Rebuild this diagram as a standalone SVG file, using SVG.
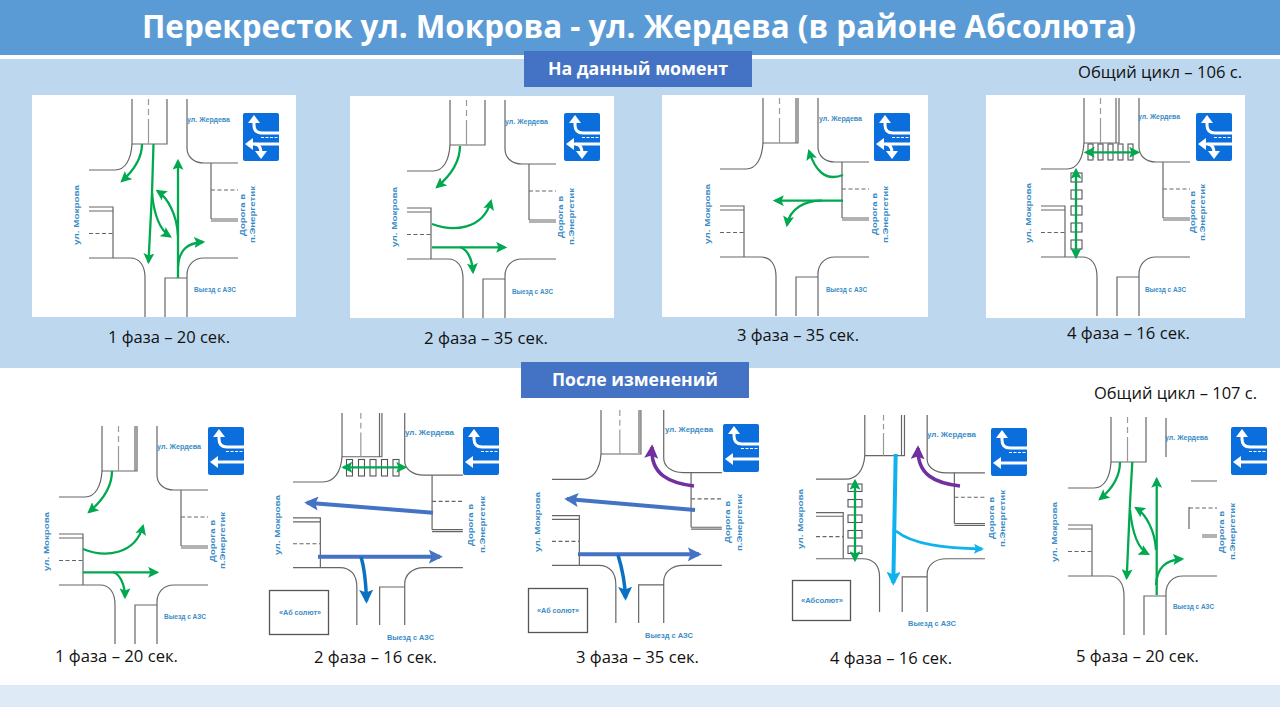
<svg xmlns="http://www.w3.org/2000/svg" xmlns:xlink="http://www.w3.org/1999/xlink" width="1280" height="707" viewBox="0 0 1280 707">
<style>
.rd{fill:none;stroke:#666;stroke-width:1.2;vector-effect:non-scaling-stroke}
.rd2{fill:none;stroke:#666;stroke-width:1.2}
.dash{stroke-dasharray:4 2.5}
.lb{font-family:"Liberation Sans",Arial,sans-serif;font-size:8px;font-weight:700;fill:#3a8cc6}
.cap{font-family:"Open Sans",sans-serif;font-size:15.5px;fill:#111}
.hd{font-family:"Open Sans",sans-serif;font-size:17px;font-weight:700;fill:#fff;text-anchor:middle}
.g{fill:none;stroke:#00a94f;stroke-width:2.3;marker-end:url(#ag)}
.gd{fill:none;stroke:#00a94f;stroke-width:2.3;marker-end:url(#ag);marker-start:url(#ag)}
.b{fill:none;stroke:#4472c4;stroke-width:4;marker-end:url(#ab)}
.d{fill:none;stroke:#0b6fc2;stroke-width:3.5;marker-end:url(#ad)}
.c{fill:none;stroke:#0fb2ee;stroke-width:4;marker-end:url(#ac)}
.c2{fill:none;stroke:#0fb2ee;stroke-width:2.8;marker-end:url(#ac2)}
.p{fill:none;stroke:#7030a0;stroke-width:3.5;marker-end:url(#ap)}
.cw{fill:none;stroke:#555;stroke-width:1.1}
.box{fill:#fff;stroke:#555;stroke-width:1.3}
.sw{fill:none;stroke:#fff;stroke-width:3}
</style>
<defs>
<marker id="ag" viewBox="0 0 10 10" refX="8" refY="5" markerWidth="11" markerHeight="11" markerUnits="userSpaceOnUse" orient="auto-start-reverse"><path d="M0,0L10,5L0,10L2,5Z" fill="#00a94f"/></marker>
<marker id="ab" viewBox="0 0 10 10" refX="8" refY="5" markerWidth="14" markerHeight="14" markerUnits="userSpaceOnUse" orient="auto"><path d="M0,0L10,5L0,10L2,5Z" fill="#4472c4"/></marker>
<marker id="ad" viewBox="0 0 10 10" refX="8" refY="5" markerWidth="14" markerHeight="14" markerUnits="userSpaceOnUse" orient="auto"><path d="M0,0L10,5L0,10L2,5Z" fill="#0b6fc2"/></marker>
<marker id="ac" viewBox="0 0 10 10" refX="8" refY="5" markerWidth="14" markerHeight="14" markerUnits="userSpaceOnUse" orient="auto"><path d="M0,0L10,5L0,10L2,5Z" fill="#0fb2ee"/></marker>
<marker id="ac2" viewBox="0 0 10 10" refX="8" refY="5" markerWidth="10" markerHeight="10" markerUnits="userSpaceOnUse" orient="auto"><path d="M0,0L10,5L0,10L2,5Z" fill="#0fb2ee"/></marker>
<marker id="ap" viewBox="0 0 10 10" refX="8" refY="5" markerWidth="14" markerHeight="14" markerUnits="userSpaceOnUse" orient="auto"><path d="M0,0L10,5L0,10L2,5Z" fill="#7030a0"/></marker>
<g id="rl">
<path class="rd" d="M132,99V144H167V99"/>
<path class="rd" d="M148.5,99v6m0,4v6m0,4V144" style="stroke:#999"/>
<path class="rd" d="M132,144C131,160 125,170 115,170H89"/>
<path class="rd" d="M89,207H113V258M89,211H113"/>
<path class="rd dash" d="M89,233.5H113"/>
<path class="rd" d="M89,258H130C140,258 145,266 145,278V317"/>
<path class="rd" d="M165,317V278H187M187,317V275C187,266 193,258 204,258H238"/>
</g>
<g id="rr">
<path class="rd" d="M187,99V148C187,156 193,163 204,163H238"/>
<path class="rd" d="M211,163V219M211,219H238M211,221H238"/>
<path class="rd dash" d="M211,190H238"/>
</g>
<g id="road"><use href="#rl"/><use href="#rr"/></g>
<g id="signA">
<rect width="36" height="48" rx="2" fill="#0a6fdc"/>
<path class="sw" d="M36,20H19Q11,20 11,12V8"/><path d="M11,2L5,10H17Z" fill="#fff"/>
<path d="M18,24.5H36" fill="none" stroke="#fff" stroke-width="1" stroke-dasharray="3 1.5"/>
<path class="sw" d="M36,31H8"/><path d="M2,31L10,25V37Z" fill="#fff"/>
<path class="sw" d="M12,31Q18,32 18,40"/><path d="M18,46L12,38H24Z" fill="#fff"/>
</g>
<g id="signB">
<rect width="36" height="48" rx="2" fill="#0a6fdc"/>
<path class="sw" d="M36,20H19Q11,20 11,12V8"/><path d="M11,2L5,10H17Z" fill="#fff"/>
<path d="M18,24.5H36" fill="none" stroke="#fff" stroke-width="1" stroke-dasharray="3 1.5"/>
<path class="sw" d="M36,35H8"/><path d="M2,35L10,29V41Z" fill="#fff"/>
</g>
</defs>

<g id="background">
<rect width="1280" height="707" fill="#fff"/>
<rect y="0" width="1280" height="55" fill="#5b9bd5"/>
<rect y="59" width="1280" height="309" fill="#bdd7ee"/>
<rect y="685" width="1280" height="22" fill="#deebf7"/>
</g>
<g id="title"><text x="639" y="38" font-family="'Open Sans',sans-serif" font-size="32" font-weight="700" fill="#fff" text-anchor="middle" textLength="994" lengthAdjust="spacingAndGlyphs">Перекресток ул. Мокрова - ул. Жердева (в районе Абсолюта)</text></g>
<g id="header-now"><rect x="524" y="51" width="228" height="36" fill="#4472c4"/><text class="hd" x="638" y="75" textLength="180" lengthAdjust="spacingAndGlyphs">На данный момент</text></g>
<g id="header-after"><rect x="521" y="362" width="228" height="36" fill="#4472c4"/><text class="hd" x="635" y="386" textLength="166" lengthAdjust="spacingAndGlyphs">После изменений</text></g>
<text class="cap" x="1078" y="78" textLength="164" lengthAdjust="spacingAndGlyphs">Общий цикл – 106 с.</text>
<text class="cap" x="1094" y="399" textLength="163" lengthAdjust="spacingAndGlyphs">Общий цикл – 107 с.</text>

<g id="top-phase-1">
<rect x="32" y="95" width="264" height="222" fill="#fff"/>
<use href="#road"/>
<use href="#signA" x="243" y="113"/>
<text class="lb" x="187" y="122" textLength="43" lengthAdjust="spacingAndGlyphs">ул. Жердева</text>
<text class="lb" transform="translate(79,245) rotate(-90)" textLength="60" lengthAdjust="spacingAndGlyphs">ул. Мокрова</text>
<text class="lb" transform="translate(245,236) rotate(-90)" textLength="42" lengthAdjust="spacingAndGlyphs">Дорога в</text>
<text class="lb" transform="translate(255,243) rotate(-90)" textLength="57" lengthAdjust="spacingAndGlyphs">п.Энергетик</text>
<text class="lb" x="194" y="292" textLength="42" lengthAdjust="spacingAndGlyphs">Выезд с АЗС</text>
<text class="cap" x="108" y="343" textLength="122" lengthAdjust="spacingAndGlyphs">1 фаза – 20 сек.</text>
</g>

<g id="top-phase-2">
<rect x="350" y="96" width="264" height="222" fill="#fff"/>
<use href="#road" transform="translate(318,1)"/>
<use href="#signA" x="564" y="113"/>
<text class="lb" x="505" y="124" textLength="43" lengthAdjust="spacingAndGlyphs">ул. Жердева</text>
<text class="lb" transform="translate(397,247) rotate(-90)" textLength="60" lengthAdjust="spacingAndGlyphs">ул. Мокрова</text>
<text class="lb" transform="translate(563,238) rotate(-90)" textLength="42" lengthAdjust="spacingAndGlyphs">Дорога в</text>
<text class="lb" transform="translate(574,245) rotate(-90)" textLength="57" lengthAdjust="spacingAndGlyphs">п.Энергетик</text>
<text class="lb" x="512" y="294" textLength="41" lengthAdjust="spacingAndGlyphs">Выезд с АЗС</text>
<text class="cap" x="424" y="344" textLength="124" lengthAdjust="spacingAndGlyphs">2 фаза – 35 сек.</text>
</g>

<g id="top-phase-3">
<rect x="662" y="95" width="266" height="222" fill="#fff"/>
<use href="#road" transform="translate(631,-1)"/>
<path class="rd2" d="M796,98V143"/>
<use href="#signA" x="874" y="113"/>
<text class="lb" x="819" y="121" textLength="43" lengthAdjust="spacingAndGlyphs">ул. Жердева</text>
<text class="lb" transform="translate(710,244) rotate(-90)" textLength="60" lengthAdjust="spacingAndGlyphs">ул. Мокрова</text>
<text class="lb" transform="translate(877,235) rotate(-90)" textLength="42" lengthAdjust="spacingAndGlyphs">Дорога в</text>
<text class="lb" transform="translate(888,243) rotate(-90)" textLength="57" lengthAdjust="spacingAndGlyphs">п.Энергетик</text>
<text class="lb" x="826" y="292" textLength="41" lengthAdjust="spacingAndGlyphs">Выезд с АЗС</text>
<text class="cap" x="737" y="341" textLength="122" lengthAdjust="spacingAndGlyphs">3 фаза – 35 сек.</text>
</g>

<g id="top-phase-4">
<rect x="986" y="95" width="259" height="223" fill="#fff"/>
<use href="#road" transform="translate(952,-1)"/>
<path class="rd2" d="M1116,98V143"/>
<use href="#signA" x="1196" y="113"/>
<text class="lb" x="1138" y="119" textLength="42" lengthAdjust="spacingAndGlyphs">ул. Жердева</text>
<text class="lb" transform="translate(1031,243) rotate(-90)" textLength="60" lengthAdjust="spacingAndGlyphs">ул. Мокрова</text>
<text class="lb" transform="translate(1195,233) rotate(-90)" textLength="42" lengthAdjust="spacingAndGlyphs">Дорога в</text>
<text class="lb" transform="translate(1205,241) rotate(-90)" textLength="57" lengthAdjust="spacingAndGlyphs">п.Энергетик</text>
<text class="lb" x="1145" y="292" textLength="41" lengthAdjust="spacingAndGlyphs">Выезд с АЗС</text>
<text class="cap" x="1067" y="339" textLength="123" lengthAdjust="spacingAndGlyphs">4 фаза – 16 сек.</text>
<g class="cw"><rect x="1088" y="144" width="5" height="16"/><rect x="1098" y="144" width="5" height="16"/><rect x="1108" y="144" width="5" height="16"/><rect x="1118" y="144" width="5" height="16"/><rect x="1128" y="144" width="5" height="16"/>
<rect x="1071" y="173" width="11" height="9"/><rect x="1071" y="190" width="11" height="9"/><rect x="1071" y="206" width="11" height="9"/><rect x="1071" y="223" width="11" height="9"/><rect x="1071" y="240" width="11" height="9"/></g>
</g>

<g id="bottom-phase-1">
<use href="#road" transform="translate(-30,327)"/>
<path class="rd2" d="M135,426V471"/>
<use href="#signB" x="208" y="427"/>
<text class="lb" x="157" y="449" textLength="44" lengthAdjust="spacingAndGlyphs">ул. Жердева</text>
<text class="lb" transform="translate(49,571) rotate(-90)" textLength="59" lengthAdjust="spacingAndGlyphs">ул. Мокрова</text>
<text class="lb" transform="translate(215,562) rotate(-90)" textLength="42" lengthAdjust="spacingAndGlyphs">Дорога в</text>
<text class="lb" transform="translate(225,569) rotate(-90)" textLength="57" lengthAdjust="spacingAndGlyphs">п.Энергетик</text>
<text class="lb" x="164" y="619" textLength="42" lengthAdjust="spacingAndGlyphs">Выезд с АЗС</text>
<text class="cap" x="55" y="662" textLength="123" lengthAdjust="spacingAndGlyphs">1 фаза – 20 сек.</text>
</g>

<g id="bottom-phase-2">
<use href="#road" transform="matrix(1.14,0,0,.972,191.54,316.77)"/>
<path class="rd2" d="M379.5,413V457"/>
<use href="#signB" x="463" y="427"/>
<text class="lb" x="405" y="435" textLength="49" lengthAdjust="spacingAndGlyphs">ул. Жердева</text>
<text class="lb" transform="translate(280,555) rotate(-90)" textLength="60" lengthAdjust="spacingAndGlyphs">ул. Мокрова</text>
<text class="lb" transform="translate(473,546) rotate(-90)" textLength="42" lengthAdjust="spacingAndGlyphs">Дорога в</text>
<text class="lb" transform="translate(485,553) rotate(-90)" textLength="57" lengthAdjust="spacingAndGlyphs">п.Энергетик</text>
<text class="lb" x="387" y="640" textLength="47" lengthAdjust="spacingAndGlyphs">Выезд с АЗС</text>
<rect class="box" x="269.5" y="590.5" width="59" height="44"/>
<text class="lb" x="279" y="615" textLength="42" lengthAdjust="spacingAndGlyphs">«Аб солют»</text>
<text class="cap" x="314" y="663" textLength="123" lengthAdjust="spacingAndGlyphs">2 фаза – 16 сек.</text>
<g class="cw"><rect x="346.5" y="459.5" width="6" height="16.5"/><rect x="358.5" y="459.5" width="6" height="16.5"/><rect x="370" y="459.5" width="6" height="16.5"/><rect x="381.5" y="459.5" width="6" height="16.5"/><rect x="393" y="459.5" width="6" height="16.5"/></g>
</g>

<g id="bottom-phase-3">
<use href="#road" transform="matrix(1.14,0,0,.977,450.54,313.3)"/>
<path class="rd2" d="M639,410V453"/>
<use href="#signB" x="723" y="424"/>
<text class="lb" x="665" y="432" textLength="48" lengthAdjust="spacingAndGlyphs">ул. Жердева</text>
<text class="lb" transform="translate(540,552) rotate(-90)" textLength="60" lengthAdjust="spacingAndGlyphs">ул. Мокрова</text>
<text class="lb" transform="translate(730,543) rotate(-90)" textLength="42" lengthAdjust="spacingAndGlyphs">Дорога в</text>
<text class="lb" transform="translate(742,551) rotate(-90)" textLength="57" lengthAdjust="spacingAndGlyphs">п.Энергетик</text>
<text class="lb" x="645" y="638" textLength="48" lengthAdjust="spacingAndGlyphs">Выезд с АЗС</text>
<rect class="box" x="528.5" y="588.5" width="59" height="44"/>
<text class="lb" x="537" y="613" textLength="42" lengthAdjust="spacingAndGlyphs">«Аб солют»</text>
<text class="cap" x="576" y="663" textLength="123" lengthAdjust="spacingAndGlyphs">3 фаза – 35 сек.</text>
</g>

<g id="bottom-phase-4">
<use href="#road" transform="matrix(1.134,0,0,.904,715.1,325.5)"/>
<path class="rd2" d="M901.5,415V456"/>
<use href="#signB" x="991" y="428"/>
<text class="lb" x="927" y="437" textLength="49" lengthAdjust="spacingAndGlyphs">ул. Жердева</text>
<text class="lb" transform="translate(803,549) rotate(-90)" textLength="60" lengthAdjust="spacingAndGlyphs">ул. Мокрова</text>
<text class="lb" transform="translate(994,539) rotate(-90)" textLength="42" lengthAdjust="spacingAndGlyphs">Дорога в</text>
<text class="lb" transform="translate(1005,547) rotate(-90)" textLength="57" lengthAdjust="spacingAndGlyphs">п.Энергетик</text>
<text class="lb" x="908" y="626" textLength="48" lengthAdjust="spacingAndGlyphs">Выезд с АЗС</text>
<rect class="box" x="792.5" y="580.5" width="58" height="40"/>
<text class="lb" x="801" y="603" textLength="42" lengthAdjust="spacingAndGlyphs">«Абсолют»</text>
<text class="cap" x="830" y="664" textLength="122" lengthAdjust="spacingAndGlyphs">4 фаза – 16 сек.</text>
<g class="cw"><rect x="848" y="484" width="14" height="7.5"/><rect x="848" y="499.5" width="14" height="7.5"/><rect x="848" y="515" width="14" height="7.5"/><rect x="848" y="530.5" width="14" height="7.5"/><rect x="848" y="546" width="14" height="7.5"/></g>
</g>

<g id="bottom-phase-5">
<use href="#rl" transform="translate(979,318)"/>
<path class="rd" d="M1166,418V457M1191,481H1217M1189,507V529M1202,535H1217M1202,537H1217"/>
<path class="rd dash" d="M1189,508H1217"/>
<use href="#signB" x="1231" y="427"/>
<text class="lb" x="1165" y="440" textLength="43" lengthAdjust="spacingAndGlyphs">ул. Жердева</text>
<text class="lb" transform="translate(1057,562) rotate(-90)" textLength="60" lengthAdjust="spacingAndGlyphs">ул. Мокрова</text>
<text class="lb" transform="translate(1224,553) rotate(-90)" textLength="42" lengthAdjust="spacingAndGlyphs">Дорога в</text>
<text class="lb" transform="translate(1235,560) rotate(-90)" textLength="57" lengthAdjust="spacingAndGlyphs">п.Энергетик</text>
<text class="lb" x="1173" y="609" textLength="41" lengthAdjust="spacingAndGlyphs">Выезд с АЗС</text>
<text class="cap" x="1076" y="662" textLength="123" lengthAdjust="spacingAndGlyphs">5 фаза – 20 сек.</text>
</g>

<g id="connectors">
<path class="g" d="M142,144C142,160 132,172 122,181"/>
<path class="g" d="M153.5,144L152,193L148.5,262"/>
<path class="g" d="M152,193C154,215 160,230 170,236.5"/>
<path class="g" d="M178,278V161"/>
<path class="g" d="M178,236C177,215 168,198 157.5,191"/>
<path class="g" d="M178,267C179,250 187,243 203,242"/>

<path class="g" d="M460,146C460,162 450,176 437,187"/>
<path class="g" d="M432,224C453,232 483,230 491,201"/>
<path class="g" d="M432,247.3H505"/>
<path class="g" d="M460,247C468,250 472,258 473,272"/>

<path class="g" d="M843,175C825,182 815,170 809,151"/>
<path class="g" d="M843,200.7H775"/>
<path class="g" d="M822,200.7C805,200.7 790,208 787,225"/>

<path class="gd" d="M1086,152.3H1138"/>
<path class="gd" d="M1076,170V257"/>

<path class="g" d="M112,471C112,487 102,501 89,512"/>
<path class="g" d="M83,549C105,558 135,555 143,526"/>
<path class="g" d="M83,572.3H157"/>
<path class="g" d="M113,572C120,574 125,585 125,597"/>

<path class="gd" d="M343.5,467.3H405"/>
<path class="b" d="M433,512.7L307,502.7"/>
<path class="b" d="M318,556.7H440"/>
<path class="d" d="M361,557C365,570 366,585 366.5,601"/>

<path class="p" d="M694,486C670,483 650,475 652,447"/>
<path class="b" d="M695,510L567,499"/>
<path class="b" d="M578,554.3H699"/>
<path class="d" d="M618,555C622,568 625,583 625.5,598"/>

<path class="gd" d="M855,481V560"/>
<path class="c" d="M895.7,454L893.3,583"/>
<path class="c2" d="M896,531C913,545 946,548 982,549"/>
<path class="p" d="M960,486C935,483 917,475 918,448"/>

<path class="g" d="M1120,462C1120,477 1112,489 1100,499"/>
<path class="g" d="M1132.3,462L1130,503L1126.7,578"/>
<path class="g" d="M1130,510C1132,530 1137,548 1148,554"/>
<path class="g" d="M1156.7,595V479"/>
<path class="g" d="M1156,550C1155,532 1147,515 1136,508"/>
<path class="g" d="M1156,585C1157,568 1165,560 1182,559"/>
</g>
</svg>
